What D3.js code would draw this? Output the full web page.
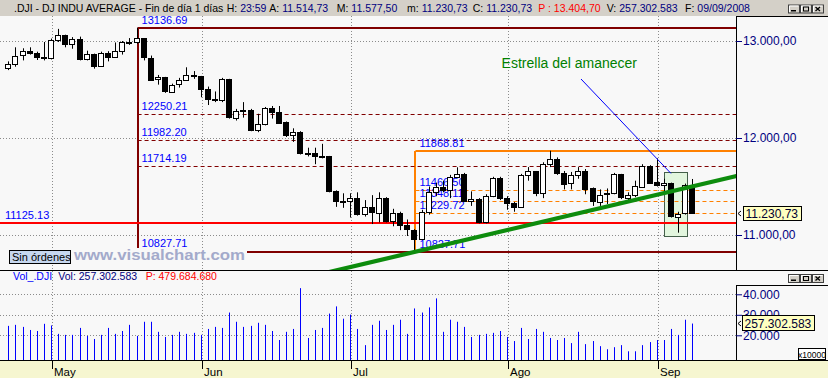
<!DOCTYPE html>
<html><head><meta charset="utf-8">
<script src="https://cdn.jsdelivr.net/npm/d3@7"></script>
<style>
html,body{margin:0;padding:0;background:#f8f8f8;overflow:hidden}
svg{display:block;font-family:"Liberation Sans",Arial,sans-serif}
</style></head><body>
<svg id="chart" width="828" height="378"></svg>
<script>
// ---------------- DATA ----------------
const dates = ["2008-04-23","2008-04-24","2008-04-25","2008-04-28","2008-04-29","2008-04-30",
"2008-05-01","2008-05-02","2008-05-05","2008-05-06","2008-05-07","2008-05-08","2008-05-09","2008-05-12","2008-05-13","2008-05-14","2008-05-15","2008-05-16","2008-05-19","2008-05-20","2008-05-21","2008-05-22","2008-05-23","2008-05-27","2008-05-28","2008-05-29","2008-05-30",
"2008-06-02","2008-06-03","2008-06-04","2008-06-05","2008-06-06","2008-06-09","2008-06-10","2008-06-11","2008-06-12","2008-06-13","2008-06-16","2008-06-17","2008-06-18","2008-06-19","2008-06-20","2008-06-23","2008-06-24","2008-06-25","2008-06-26","2008-06-27","2008-06-30",
"2008-07-01","2008-07-02","2008-07-03","2008-07-07","2008-07-08","2008-07-09","2008-07-10","2008-07-11","2008-07-14","2008-07-15","2008-07-16","2008-07-17","2008-07-18","2008-07-21","2008-07-22","2008-07-23","2008-07-24","2008-07-25","2008-07-28","2008-07-29","2008-07-30","2008-07-31",
"2008-08-01","2008-08-04","2008-08-05","2008-08-06","2008-08-07","2008-08-08","2008-08-11","2008-08-12","2008-08-13","2008-08-14","2008-08-15","2008-08-18","2008-08-19","2008-08-20","2008-08-21","2008-08-22","2008-08-25","2008-08-26","2008-08-27","2008-08-28","2008-08-29",
"2008-09-02","2008-09-03","2008-09-04","2008-09-05","2008-09-08","2008-09-09"];

const opens = [12720.23,12763.22,12848.95,12891.86,12871.75,12831.45,
12820.13,13010.00,13058.20,12969.54,13020.83,12814.35,12866.78,12745.88,12876.31,12832.18,12898.38,12992.66,12986.80,13028.16,12828.68,12601.19,12625.62,12479.63,12548.35,12594.03,12646.22,
12638.32,12503.82,12402.85,12390.48,12604.45,12209.81,12280.32,12289.76,12083.77,12141.58,12307.35,12269.08,12160.30,12029.06,12063.09,11842.69,11842.36,11807.43,11811.83,11453.42,11346.51,
11350.01,11382.26,11215.51,11288.53,11231.96,11384.21,11147.44,11229.02,11100.54,11055.19,10962.54,11239.28,11446.66,11496.57,11467.34,11602.50,11632.38,11349.28,11370.69,11131.08,11397.56,11583.69,
11378.02,11326.32,11284.15,11615.77,11656.07,11431.43,11734.32,11782.35,11642.47,11532.96,11615.93,11659.90,11479.39,11348.55,11417.43,11430.21,11628.06,11386.25,11412.87,11502.51,11715.18,
11543.55,11516.92,11532.88,11188.23,11220.96,11514.73];

const highs = [12790,12935,12925,12935,12890,12990,
13025,13125,13065,13040,13045,12900,12870,12890,12895,12985,13000,13030,13136.69,13030,12850,12650,12630,12560,12620,12729,12690,
12640,12530,12480,12620,12610,12300,12370,12300,12250,12320,12330,12330,12170,12100,12070,11900,11900,11940,11815,11460,11430,
11430,11440,11360,11411,11440,11390,11270,11240,11160,11060,11260,11500,11540,11560,11620,11698,11640,11450,11380,11420,11600,11600,
11400,11340,11630,11700,11660,11750,11868.81,11800,11660,11650,11700,11680,11490,11470,11480,11640,11630,11440,11560,11730,11720,
11790,11580,11540,11240,11530,11577.50];

const lows = [12700,12735,12800,12860,12804,12800,
12810,12990,12935,12920,12800,12800,12715,12735,12790,12825,12860,12960,12970,12800,12590,12550,12465,12470,12520,12590,12610,
12420,12340,12370,12370,12200,12180,12210,12070,12060,12130,12200,12150,12010,11960,11830,11810,11730,11790,11440,11290,11280,
11180,11200,11190,11113,11130,11130,11090,11050,10990,10827.71,10950,11210,11400,11440,11380,11590,11340,11300,11120,11120,11390,11360,
11260,11240,11280,11560,11400,11380,11700,11620,11470,11470,11580,11420,11300,11300,11320,11420,11370,11350,11390,11500,11530,
11500,11440,11180,11024,11210,11230.73];

const closes = [12763.22,12848.95,12891.86,12871.75,12831.45,12820.13,
13010.00,13058.20,12969.54,13020.83,12814.35,12866.78,12745.88,12876.31,12832.18,12898.38,12992.66,12986.80,13028.16,12828.68,12601.19,12625.62,12479.63,12548.35,12594.03,12646.22,12638.32,
12503.82,12402.85,12390.48,12604.45,12209.81,12280.32,12289.76,12083.77,12141.58,12307.35,12269.08,12160.30,12029.06,12063.09,11842.69,11842.36,11807.43,11811.83,11453.42,11346.51,11350.01,
11382.26,11215.51,11288.53,11231.96,11384.21,11147.44,11229.02,11100.54,11055.19,10962.54,11239.28,11446.66,11496.57,11467.34,11602.50,11632.38,11349.28,11370.69,11131.08,11397.56,11583.69,11378.02,
11326.32,11284.15,11615.77,11656.07,11431.43,11734.32,11782.35,11642.47,11532.96,11615.93,11659.90,11479.39,11348.55,11417.43,11430.21,11628.06,11386.25,11412.87,11502.51,11715.18,11543.55,
11516.92,11532.88,11188.23,11220.96,11510.74,11230.73];

// volume in units of 10,000 shares (chart shows x10000)
const volumes = [24600,25100,24100,22600,22100,25600,
24800,20700,20200,20200,23600,19700,18200,20200,23600,20700,22100,25100,19700,26600,26600,21700,19200,20200,21700,20700,21200,
20200,23100,24100,23600,31100,26600,24100,24600,26100,25100,22100,17700,21700,23100,43000,18700,22600,23600,30600,34100,28100,
30100,23100,15200,25100,27100,22600,25100,27600,20700,33100,31100,33600,38000,21700,27600,26600,24100,19200,20200,20700,21200,22100,
19200,17200,23600,18200,23100,21700,18700,17700,18700,16200,21700,15700,17200,14700,13200,14200,15200,12200,12200,15200,16700,
17700,17700,23100,20200,27600,25730];

const monthDates = ["2008-05-01","2008-06-02","2008-07-01","2008-08-01","2008-09-02"];
const monthLabels = ["May","Jun","Jul","Ago","Sep"];

const priceTicks = [13000,12000,11000];
const priceTickLabels = ["13.000,00","12.000,00","11.000,00"];
const volTicks = [40000,30000,20000];
const volTickLabels = ["40.000","30.000","20.000"];

// Fibonacci retracement 1 (May 19 high -> Jul 15 low)
const fib1Date = "2008-05-19";
const fib1Levels = [13136.69,12250.21,11982.20,11714.19,10827.71];
const fib1Labels = ["13136.69","12250.21","11982.20","11714.19","10827.71"];
// Fibonacci retracement 2 (Jul 15 low -> Aug 11 high)
const fib2Date = "2008-07-15";
const fib2Levels = [11868.81,11466.50,11348.11,11229.72,10827.71];
const fib2Labels = ["11868.81","11466.50","11348.11","11229.72","10827.71"];
// horizontal support
const supportLevel = 11125.13;
const supportLabel = "11125.13";
// trend line anchors
const trendDates = ["2008-07-15","2008-09-09"];
const trendValues = [10827.71,11503];
// morning star highlight
const starDates = ["2008-09-04","2008-09-05"];
const starPrices = [10985,11645];
const starText = "Estrella del amanecer";

const headerItems = [
  {t:".DJI - DJ INDU AVERAGE - Fin de día 1 días", c:"#000", x:14},
  {t:"H:", c:"#000", x:226.7},{t:"23:59", c:"#000080"},
  {t:"A:", c:"#000", x:269.3},{t:"11.514,73", c:"#000080"},
  {t:"M:", c:"#000", x:336.7},{t:"11.577,50", c:"#000080"},
  {t:"m:", c:"#000", x:407},{t:"11.230,73", c:"#000080"},
  {t:"C:", c:"#000", x:472.7},{t:"11.230,73", c:"#000080"},
  {t:"P : 13.404,70", c:"#ff0000", x:538.3},
  {t:"V:", c:"#000", x:606.7},{t:"257.302.583", c:"#000080"},
  {t:"F:", c:"#000", x:685},{t:"09/09/2008", c:"#000080"}
];
const volHeaderItems = [
  {t:"Vol_.DJI", c:"#0000ff", x:13},
  {t:"Vol: 257.302.583", c:"#000080", x:58.3},
  {t:"P: 479.684.680", c:"#ff0000", x:145.7}
];
const lastPriceLabel = "11.230,73";
const lastVolLabel = "257.302.583";

// ---------------- LAYOUT ----------------
const svg = d3.select("#chart");
const W = 828, H = 378, PR = 736, TOP = 16, MB = 270, VB = 360;
const FONT = '"Liberation Sans", Arial, sans-serif';
const N = dates.length;
const x = d3.scaleLinear().domain([0, N - 1]).range([9.33, 693.33]);
const step = x(1) - x(0);
const xi = d => x(dates.indexOf(d));
const y = d3.scaleLinear().domain([11000, 13000]).range([235, 41]);
const yv = d3.scaleLinear().domain([20000, 40000]).range([335.3, 294.3]);
const px = v => Math.round(v) + 0.5;
const ri = v => Math.round(v);

svg.append("rect").attr("width", W).attr("height", H).attr("fill", "#f8f8f8");
svg.append("rect").attr("width", W).attr("height", TOP).attr("fill", "#d4d0c8");
svg.append("rect").attr("y", VB).attr("width", W).attr("height", H - VB).attr("fill", "#f6f6d0");

const defs = svg.append("defs");
defs.append("clipPath").attr("id", "clipMain").append("rect")
  .attr("x", 0).attr("y", TOP).attr("width", PR).attr("height", MB - TOP);
defs.append("clipPath").attr("id", "clipVol").append("rect")
  .attr("x", 0).attr("y", MB).attr("width", PR).attr("height", VB - MB);

// grid
const grid = svg.append("g").attr("stroke", "#8c8c8c").attr("stroke-dasharray", "1,2");
monthDates.forEach(d => grid.append("line").attr("x1", px(xi(d))).attr("x2", px(xi(d))).attr("y1", TOP).attr("y2", VB));
priceTicks.forEach(v => grid.append("line").attr("x1", 0).attr("x2", PR).attr("y1", px(y(v))).attr("y2", px(y(v))));
volTicks.forEach(v => grid.append("line").attr("x1", 0).attr("x2", PR).attr("y1", px(yv(v))).attr("y2", px(yv(v))));

const main = svg.append("g").attr("clip-path", "url(#clipMain)");

// morning-star highlight box
const bx0 = xi(starDates[0]) - step * 1.1, bx1 = xi(starDates[1]) + step * 1.1;
main.append("rect")
  .attr("x", px(bx0)).attr("y", px(y(starPrices[1])))
  .attr("width", ri(bx1 - bx0)).attr("height", ri(y(starPrices[0]) - y(starPrices[1])))
  .attr("fill", "#e2f6de").attr("stroke", "#44604a");

// fib 2 (orange)
const f2x = xi(fib2Date);
fib2Levels.forEach((v, k) => {
  const solid = k === 0 || k === fib2Levels.length - 1;
  main.append("line").attr("x1", f2x).attr("x2", PR)
    .attr("y1", solid ? ri(y(v)) : px(y(v))).attr("y2", solid ? ri(y(v)) : px(y(v)))
    .attr("stroke", "#ff8000").attr("stroke-width", solid ? 2 : 1)
    .attr("stroke-dasharray", solid ? null : "4,3");
});
main.append("line").attr("x1", ri(f2x)).attr("x2", ri(f2x))
  .attr("y1", ri(y(fib2Levels[0]))).attr("y2", ri(y(fib2Levels[4])))
  .attr("stroke", "#ff8000").attr("stroke-width", 2);

// fib 1 (dark red)
const f1x = xi(fib1Date);
fib1Levels.forEach((v, k) => {
  const solid = k === 0 || k === fib1Levels.length - 1;
  main.append("line").attr("x1", f1x).attr("x2", PR)
    .attr("y1", solid ? ri(y(v)) : px(y(v))).attr("y2", solid ? ri(y(v)) : px(y(v)))
    .attr("stroke", "#800000").attr("stroke-width", solid ? 2 : 1)
    .attr("stroke-dasharray", solid ? null : "4,3");
});
main.append("line").attr("x1", ri(f1x)).attr("x2", ri(f1x))
  .attr("y1", ri(y(fib1Levels[0]))).attr("y2", ri(y(fib1Levels[4])) - 4)
  .attr("stroke", "#800000").attr("stroke-width", 2);

// support line
main.append("line").attr("x1", 0).attr("x2", PR)
  .attr("y1", ri(y(supportLevel))).attr("y2", ri(y(supportLevel)))
  .attr("stroke", "#ff0000").attr("stroke-width", 2);

// level labels
const lbl = main.append("g").attr("fill", "#0000ff").attr("font-size", 11).attr("font-family", FONT);
fib1Levels.forEach((v, k) => lbl.append("text").attr("x", f1x + 4).attr("y", y(v) - (k === 4 ? 5 : 4)).text(fib1Labels[k]));
fib2Levels.forEach((v, k) => lbl.append("text").attr("x", f2x + 4).attr("y", y(v) - 4).text(fib2Labels[k]));
lbl.append("text").attr("x", 5).attr("y", y(supportLevel) - 4).text(supportLabel);

// candles
const idx = d3.range(N);
const cg = main.append("g");
cg.selectAll("line").data(idx).join("line")
  .attr("x1", i => ri(x(i)) - 0.5).attr("x2", i => ri(x(i)) - 0.5)
  .attr("y1", i => y(highs[i])).attr("y2", i => y(lows[i]))
  .attr("stroke", "#000").attr("stroke-width", 1);
cg.selectAll("rect").data(idx).join("rect")
  .attr("x", i => ri(x(i)) - 3.5).attr("width", 5)
  .attr("y", i => ri(y(Math.max(opens[i], closes[i]))) + 0.5)
  .attr("height", i => Math.max(1, ri(Math.abs(y(opens[i]) - y(closes[i])))))
  .attr("fill", i => closes[i] >= opens[i] ? "#ffffff" : "#000000")
  .attr("stroke", "#000").attr("stroke-width", 1);

// trend line (extended through the two anchors)
const ti0 = dates.indexOf(trendDates[0]), ti1 = dates.indexOf(trendDates[1]);
const slope = (trendValues[1] - trendValues[0]) / (ti1 - ti0);
const tA = 40, tB = 104;
main.append("line")
  .attr("x1", x(tA)).attr("y1", y(trendValues[0] + (tA - ti0) * slope))
  .attr("x2", x(tB)).attr("y2", y(trendValues[0] + (tB - ti0) * slope))
  .attr("stroke", "#0d8c0d").attr("stroke-width", 4.2);

// annotation
main.append("text").attr("x", 637).attr("y", 67.7).attr("text-anchor", "end")
  .attr("font-size", 14).attr("font-family", FONT).attr("fill", "#008000").text(starText);
main.append("line").attr("x1", 581).attr("y1", 79)
  .attr("x2", xi(starDates[0]) - 1).attr("y2", y(starPrices[1]) + 1)
  .attr("stroke", "#0000ff").attr("stroke-width", 1);

// button + watermark
main.append("rect").attr("x", 72).attr("y", 248).attr("width", 175).attr("height", 14).attr("fill", "#f8f8f8");
main.append("text").attr("x", 74).attr("y", 259.5).attr("font-size", 15).attr("font-weight", "bold")
  .attr("font-family", FONT).attr("fill", "#a3aacb").attr("textLength", 171).attr("lengthAdjust", "spacingAndGlyphs")
  .text("www.visualchart.com");
main.append("rect").attr("x", 9.5).attr("y", 250.5).attr("width", 61).attr("height", 13)
  .attr("fill", "#c6d7ef").attr("stroke", "#000");
main.append("text").attr("x", 12).attr("y", 260.5).attr("font-size", 11).attr("font-family", FONT)
  .attr("fill", "#000").text("Sin órdenes");

// volume bars
const vol = svg.append("g").attr("clip-path", "url(#clipVol)");
vol.selectAll("line").data(idx).join("line")
  .attr("x1", i => ri(x(i)) - 0.5).attr("x2", i => ri(x(i)) - 0.5)
  .attr("y1", VB).attr("y2", i => yv(volumes[i]))
  .attr("stroke", "#0000ff").attr("stroke-width", 1);

// borders
const bd = svg.append("g").attr("stroke", "#000").attr("stroke-width", 1);
bd.append("line").attr("x1", PR + 0.5).attr("x2", PR + 0.5).attr("y1", TOP).attr("y2", MB);
bd.append("line").attr("x1", PR).attr("x2", W).attr("y1", TOP + 0.5).attr("y2", TOP + 0.5);
bd.append("line").attr("x1", 0).attr("x2", W).attr("y1", MB + 0.5).attr("y2", MB + 0.5);
bd.append("line").attr("x1", 0).attr("x2", W).attr("y1", VB + 0.5).attr("y2", VB + 0.5);
bd.append("line").attr("x1", PR + 0.5).attr("x2", PR + 0.5).attr("y1", 285).attr("y2", VB);
bd.append("line").attr("x1", PR).attr("x2", W).attr("y1", 285.5).attr("y2", 285.5);

// price axis
const ay = svg.append("g").attr("transform", `translate(${PR},0)`)
  .call(d3.axisRight(y).tickValues(priceTicks).tickFormat((d, i) => priceTickLabels[i]).tickSize(6).tickPadding(1));
ay.select(".domain").remove();
ay.selectAll("line").attr("stroke", "#000080");
ay.selectAll("text").attr("fill", "#000080").attr("font-size", 12).attr("font-family", FONT);

// volume axis
const av = svg.append("g").attr("transform", `translate(${PR},0)`)
  .call(d3.axisRight(yv).tickValues(volTicks).tickFormat((d, i) => volTickLabels[i]).tickSize(6).tickPadding(1));
av.select(".domain").remove();
av.selectAll("line").attr("stroke", "#000080");
av.selectAll("text").attr("fill", "#000080").attr("font-size", 12).attr("font-family", FONT);

// date axis
const ax = svg.append("g").attr("transform", `translate(0,${VB})`)
  .call(d3.axisBottom(x).tickValues(monthDates.map(d => dates.indexOf(d))).tickFormat((d, i) => monthLabels[i]).tickSize(9));
ax.select(".domain").remove();
ax.selectAll(".tick").attr("transform", d => `translate(${px(x(d))},0)`);
ax.selectAll("line").attr("stroke", "#000");
ax.selectAll("text").attr("text-anchor", "start").attr("x", 1.5).attr("y", 16).attr("dy", 0)
  .attr("fill", "#000").attr("font-size", 11.5).attr("font-family", FONT);

// last value boxes
const lpY = y(closes[N - 1]);
svg.append("rect").attr("x", 743.5).attr("y", ri(lpY) - 6.5).attr("width", 58).attr("height", 14)
  .attr("fill", "#ffffc0").attr("stroke", "#000");
svg.append("text").attr("x", 745.5).attr("y", ri(lpY) + 5).attr("font-size", 12).attr("font-family", FONT)
  .attr("fill", "#000033").text(lastPriceLabel);
svg.append("path").attr("d", `M741,${ri(lpY) - 2}L738,${ri(lpY) + 0.5}L741,${ri(lpY) + 3}`).attr("stroke", "#000").attr("fill", "none");

const lvY = yv(volumes[N - 1]);
svg.append("rect").attr("x", 742.5).attr("y", ri(lvY) - 8.5).attr("width", 72).attr("height", 15)
  .attr("fill", "#ffffc0").attr("stroke", "#000");
svg.append("text").attr("x", 744.5).attr("y", ri(lvY) + 3.5).attr("font-size", 12).attr("font-family", FONT)
  .attr("fill", "#000033").text(lastVolLabel);
svg.append("path").attr("d", `M741,${ri(lvY) - 3}L738,${ri(lvY) - 0.5}L741,${ri(lvY) + 2}`).attr("stroke", "#000").attr("fill", "none");

svg.append("rect").attr("x", 798.5).attr("y", 348.5).attr("width", 27).attr("height", 11)
  .attr("fill", "#ffffff").attr("stroke", "#000");
svg.append("text").attr("x", 812).attr("y", 357.5).attr("text-anchor", "middle").attr("font-size", 8.5)
  .attr("font-family", FONT).attr("fill", "#000").text("x10000");

// headers
const th = svg.append("text").attr("y", 12).attr("font-size", 10.5).attr("font-family", FONT);
headerItems.forEach(it => {
  const s = th.append("tspan").attr("fill", it.c).text(it.t);
  if (it.x !== undefined) s.attr("x", it.x); else s.attr("dx", 3);
});
const vh = svg.append("text").attr("y", 280).attr("font-size", 10.5).attr("font-family", FONT);
volHeaderItems.forEach(it => vh.append("tspan").attr("x", it.x).attr("fill", it.c).text(it.t));

// window buttons
function winButtons(y0) {
  [788, 800, 812].forEach((bx, k) => {
    const g = svg.append("g");
    g.append("rect").attr("x", bx + 0.5).attr("y", y0 + 0.5).attr("width", 11).attr("height", 8)
      .attr("fill", "#d4d0c8").attr("stroke", "#404040");
    g.append("path").attr("d", `M${bx + 1.5},${y0 + 7.5}V${y0 + 1.5}H${bx + 10.5}`).attr("stroke", "#fff").attr("fill", "none");
    if (k === 0) g.append("rect").attr("x", bx + 3).attr("y", y0 + 5.5).attr("width", 5).attr("height", 1.5).attr("fill", "#000");
    if (k === 1) g.append("rect").attr("x", bx + 3.5).attr("y", y0 + 2.5).attr("width", 5).attr("height", 4)
      .attr("fill", "none").attr("stroke", "#000");
    if (k === 2) g.append("path").attr("d", `M${bx + 3.5},${y0 + 2.5}L${bx + 8},${y0 + 6.5}M${bx + 8},${y0 + 2.5}L${bx + 3.5},${y0 + 6.5}`)
      .attr("stroke", "#000").attr("stroke-width", 1.3);
  });
}
winButtons(4.5);
winButtons(274);
</script></body></html>
